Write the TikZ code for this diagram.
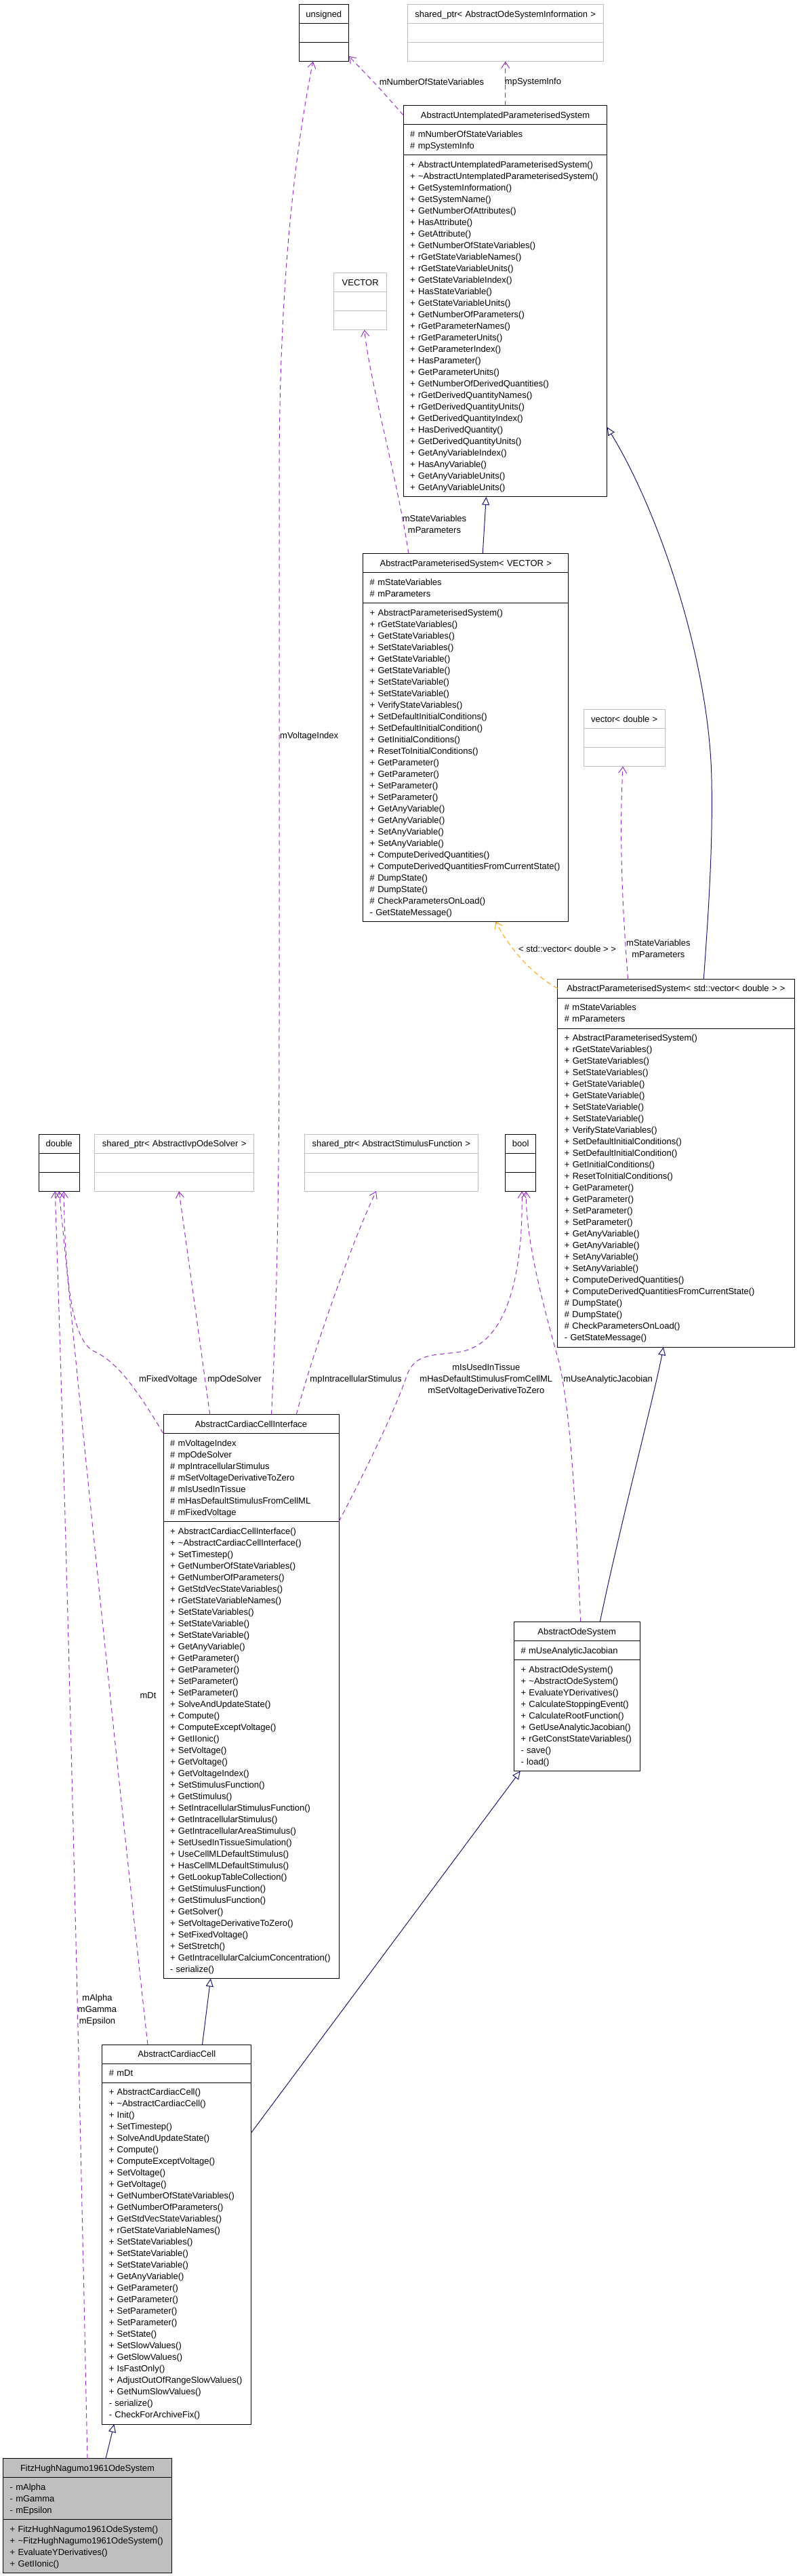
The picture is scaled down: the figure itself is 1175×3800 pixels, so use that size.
\documentclass[tikz,border=0pt]{standalone}
\usepackage{fontspec}
\setmainfont{Liberation Sans}
\usepackage{tikz}
\usetikzlibrary{positioning, arrows.meta}
\definecolor{umlgray}{HTML}{BFBFBF}
\definecolor{usecol}{HTML}{9A32CD}
\definecolor{inhcol}{HTML}{191970}
\definecolor{tplcol}{HTML}{FFA500}
\newcommand{\umlfont}{\fontsize{13}{17}\selectfont\hyphenpenalty=10000}
\newcommand{\psattrs}{\#~mStateVariables\\\#~mParameters}
\newcommand{\psops}{+~AbstractParameterisedSystem()\\+~rGetStateVariables()\\+~GetStateVariables()\\+~SetStateVariables()\\+~GetStateVariable()\\+~GetStateVariable()\\+~SetStateVariable()\\+~SetStateVariable()\\+~VerifyStateVariables()\\+~SetDefaultInitialConditions()\\+~SetDefaultInitialCondition()\\+~GetInitialConditions()\\+~ResetToInitialConditions()\\+~GetParameter()\\+~GetParameter()\\+~SetParameter()\\+~SetParameter()\\+~GetAnyVariable()\\+~GetAnyVariable()\\+~SetAnyVariable()\\+~SetAnyVariable()\\+~ComputeDerivedQuantities()\\+~ComputeDerivedQuantitiesFromCurrentState()\\\#~DumpState()\\\#~DumpState()\\\#~CheckParametersOnLoad()\\-~GetStateMessage()}

\begin{document}
\begin{tikzpicture}[x=1pt, y=-1pt,
box/.style = {draw, line width=1pt, outer sep=0pt, inner xsep=10pt, inner ysep=5.5pt,
  execute at begin node={\rule{0pt}{13.15pt}}, execute at end node={\rule[-3.85pt]{0pt}{0pt}}},
hdr/.style = {box, align=center},
sec/.style = {box, align=left},
ghost/.style = {draw=umlgray},
lbl/.style = {inner sep=0pt, align=center},
usage/.style = {draw=usecol, line width=1pt, dash pattern=on 7pt off 5pt, -{Straight Barb[length=9pt,width=12pt]}},
inh/.style = {draw=inhcol, line width=1pt, -{Triangle[open,length=12pt,width=11pt]}},
tpl/.style = {usage, draw=tplcol}]
\tikzstyle{every node}=[font=\umlfont]
\path[use as bounding box, fill=white] (0,0) rectangle (1175,3800);

% top row
\node[hdr, text width=53.7pt, anchor=north] (uns) at (477.85,6.7) {unsigned};
\node[sec, text width=53.7pt, below=0pt of uns] (uns-a) {};
\node[sec, text width=53.7pt, below=0pt of uns-a] (uns-m) {};
\node[hdr, ghost, text width=269.1pt, anchor=north] (sinfo) at (745.75,6.7) {shared\_ptr< AbstractOdeSystemInformation >};
\node[sec, ghost, text width=269.1pt, below=0pt of sinfo] (sinfo-a) {};
\node[sec, ghost, text width=269.1pt, below=0pt of sinfo-a] (sinfo-m) {};

\node[hdr, text width=280.6pt, anchor=north] (usys) at (745.5,155.9) {AbstractUntemplatedParameterisedSystem};
\node[sec, text width=280.6pt, below=0pt of usys] (usys-a) {\#~mNumberOfStateVariables\\\#~mpSystemInfo};
\node[sec, text width=280.6pt, below=0pt of usys-a] (usys-m) {+~AbstractUntemplatedParameterisedSystem()\\+~\textasciitilde AbstractUntemplatedParameterisedSystem()\\+~GetSystemInformation()\\+~GetSystemName()\\+~GetNumberOfAttributes()\\+~HasAttribute()\\+~GetAttribute()\\+~GetNumberOfStateVariables()\\+~rGetStateVariableNames()\\+~rGetStateVariableUnits()\\+~GetStateVariableIndex()\\+~HasStateVariable()\\+~GetStateVariableUnits()\\+~GetNumberOfParameters()\\+~rGetParameterNames()\\+~rGetParameterUnits()\\+~GetParameterIndex()\\+~HasParameter()\\+~GetParameterUnits()\\+~GetNumberOfDerivedQuantities()\\+~rGetDerivedQuantityNames()\\+~rGetDerivedQuantityUnits()\\+~GetDerivedQuantityIndex()\\+~HasDerivedQuantity()\\+~GetDerivedQuantityUnits()\\+~GetAnyVariableIndex()\\+~HasAnyVariable()\\+~GetAnyVariableUnits()\\+~GetAnyVariableUnits()};

\node[hdr, ghost, text width=57.8pt, anchor=north] (vec) at (531.7,402.5) {VECTOR};
\node[sec, ghost, text width=57.8pt, below=0pt of vec] (vec-a) {};
\node[sec, ghost, text width=57.8pt, below=0pt of vec-a] (vec-m) {};

\node[hdr, text width=283.1pt, anchor=north] (psv) at (687.25,816.5) {AbstractParameterisedSystem< VECTOR >};
\node[sec, text width=283.1pt, below=0pt of psv] (psv-a) {\psattrs};
\node[sec, text width=283.1pt, below=0pt of psv-a] (psv-m) {\psops};

\node[hdr, ghost, text width=100pt, anchor=north] (vdbl) at (921.2,1046.6) {vector< double >};
\node[sec, ghost, text width=100pt, below=0pt of vdbl] (vdbl-a) {};
\node[sec, ghost, text width=100pt, below=0pt of vdbl-a] (vdbl-m) {};

\node[hdr, text width=329.1pt, anchor=north] (psd) at (997.45,1444.2) {AbstractParameterisedSystem< std::vector< double > >};
\node[sec, text width=329.1pt, below=0pt of psd] (psd-a) {\psattrs};
\node[sec, text width=329.1pt, below=0pt of psd-a] (psd-m) {\psops};

% middle row
\node[hdr, text width=40.2pt, anchor=north] (dbl) at (87.2,1673.3) {double};
\node[sec, text width=40.2pt, below=0pt of dbl] (dbl-a) {};
\node[sec, text width=40.2pt, below=0pt of dbl-a] (dbl-m) {};
\node[hdr, ghost, text width=214.7pt, anchor=north] (sivp) at (257.15,1673.3) {shared\_ptr< AbstractIvpOdeSolver >};
\node[sec, ghost, text width=214.7pt, below=0pt of sivp] (sivp-a) {};
\node[sec, ghost, text width=214.7pt, below=0pt of sivp-a] (sivp-m) {};
\node[hdr, ghost, text width=236.6pt, anchor=north] (sstim) at (577.3,1673.3) {shared\_ptr< AbstractStimulusFunction >};
\node[sec, ghost, text width=236.6pt, below=0pt of sstim] (sstim-a) {};
\node[sec, ghost, text width=236.6pt, below=0pt of sstim-a] (sstim-m) {};
\node[hdr, text width=25.4pt, anchor=north] (bl) at (768.1,1673.3) {bool};
\node[sec, text width=25.4pt, below=0pt of bl] (bl-a) {};
\node[sec, text width=25.4pt, below=0pt of bl-a] (bl-m) {};

\node[hdr, text width=239pt, anchor=north] (acci) at (370.5,2086.5) {AbstractCardiacCellInterface};
\node[sec, text width=239pt, below=0pt of acci] (acci-a) {\#~mVoltageIndex\\\#~mpOdeSolver\\\#~mpIntracellularStimulus\\\#~mSetVoltageDerivativeToZero\\\#~mIsUsedInTissue\\\#~mHasDefaultStimulusFromCellML\\\#~mFixedVoltage};
\node[sec, text width=239pt, below=0pt of acci-a] (acci-m) {+~AbstractCardiacCellInterface()\\+~\textasciitilde AbstractCardiacCellInterface()\\+~SetTimestep()\\+~GetNumberOfStateVariables()\\+~GetNumberOfParameters()\\+~GetStdVecStateVariables()\\+~rGetStateVariableNames()\\+~SetStateVariables()\\+~SetStateVariable()\\+~SetStateVariable()\\+~GetAnyVariable()\\+~GetParameter()\\+~GetParameter()\\+~SetParameter()\\+~SetParameter()\\+~SolveAndUpdateState()\\+~Compute()\\+~ComputeExceptVoltage()\\+~GetIIonic()\\+~SetVoltage()\\+~GetVoltage()\\+~GetVoltageIndex()\\+~SetStimulusFunction()\\+~GetStimulus()\\+~SetIntracellularStimulusFunction()\\+~GetIntracellularStimulus()\\+~GetIntracellularAreaStimulus()\\+~SetUsedInTissueSimulation()\\+~UseCellMLDefaultStimulus()\\+~HasCellMLDefaultStimulus()\\+~GetLookupTableCollection()\\+~GetStimulusFunction()\\+~GetStimulusFunction()\\+~GetSolver()\\+~SetVoltageDerivativeToZero()\\+~SetFixedVoltage()\\+~SetStretch()\\+~GetIntracellularCalciumConcentration()\\-~serialize()};

\node[hdr, text width=165.5pt, anchor=north] (aode) at (851.25,2392.5) {AbstractOdeSystem};
\node[sec, text width=165.5pt, below=0pt of aode] (aode-a) {\#~mUseAnalyticJacobian};
\node[sec, text width=165.5pt, below=0pt of aode-a] (aode-m) {+~AbstractOdeSystem()\\+~\textasciitilde AbstractOdeSystem()\\+~EvaluateYDerivatives()\\+~CalculateStoppingEvent()\\+~CalculateRootFunction()\\+~GetUseAnalyticJacobian()\\+~rGetConstStateVariables()\\-~save()\\-~load()};

% bottom
\node[hdr, text width=200pt, anchor=north] (acc) at (260.8,3016) {AbstractCardiacCell};
\node[sec, text width=200pt, below=0pt of acc] (acc-a) {\#~mDt};
\node[sec, text width=200pt, below=0pt of acc-a] (acc-m) {+~AbstractCardiacCell()\\+~\textasciitilde AbstractCardiacCell()\\+~Init()\\+~SetTimestep()\\+~SolveAndUpdateState()\\+~Compute()\\+~ComputeExceptVoltage()\\+~SetVoltage()\\+~GetVoltage()\\+~GetNumberOfStateVariables()\\+~GetNumberOfParameters()\\+~GetStdVecStateVariables()\\+~rGetStateVariableNames()\\+~SetStateVariables()\\+~SetStateVariable()\\+~SetStateVariable()\\+~GetAnyVariable()\\+~GetParameter()\\+~GetParameter()\\+~SetParameter()\\+~SetParameter()\\+~SetState()\\+~SetSlowValues()\\+~GetSlowValues()\\+~IsFastOnly()\\+~AdjustOutOfRangeSlowValues()\\+~GetNumSlowValues()\\-~serialize()\\-~CheckForArchiveFix()};

\node[hdr, fill=umlgray, text width=228.8pt, anchor=north] (fhn) at (129,3626.7) {FitzHughNagumo1961OdeSystem};
\node[sec, fill=umlgray, text width=228.8pt, below=0pt of fhn] (fhn-a) {-~mAlpha\\-~mGamma\\-~mEpsilon};
\node[sec, fill=umlgray, text width=228.8pt, below=0pt of fhn-a] (fhn-m) {+~FitzHughNagumo1961OdeSystem()\\+~\textasciitilde FitzHughNagumo1961OdeSystem()\\+~EvaluateYDerivatives()\\+~GetIIonic()};

% edge labels
\node[lbl] (lnsv) at (637,121) {mNumberOfStateVariables};
\node[lbl] (lsi) at (786.5,121) {mpSystemInfo};
\node[lbl] (lpsv) at (641,773.5) {mStateVariables\\mParameters};
\node[lbl] (ltpl) at (837,1400) {< std::vector< double > >};
\node[lbl] (lpsd) at (971.4,1399.6) {mStateVariables\\mParameters};
\node[lbl, anchor=west] (lvi) at (413,1086.6) {mVoltageIndex};
\node[lbl] (lfv) at (248,2035.3) {mFixedVoltage};
\node[lbl] (lode) at (346,2035.3) {mpOdeSolver};
\node[lbl] (listim) at (525,2035.3) {mpIntracellularStimulus};
\node[lbl] (lbool) at (717.3,2035.3) {mIsUsedInTissue\\mHasDefaultStimulusFromCellML\\mSetVoltageDerivativeToZero};
\node[lbl] (ljac) at (897,2035.4) {mUseAnalyticJacobian};
\node[lbl] (ldt) at (218.5,2500.6) {mDt};
\node[lbl] (lfhn) at (143.5,2965.3) {mAlpha\\mGamma\\mEpsilon};

% usage
\draw[usage] (usys.west) .. controls (560,130) .. ([yshift=-6pt]uns-m.east);
\draw[usage] (usys.north) -- (sinfo-m.south);
\draw[usage] ([xshift=-84.3pt]psv.north) .. controls (585,700) and (545,560) .. ([xshift=6pt]vec-m.south);
\draw[usage] ([xshift=-70.85pt]psd.north) .. controls (915,1300) and (915,1200) .. ([xshift=-2pt]vdbl-m.south);
\draw[usage] ([xshift=30pt]acci.north) .. controls (410,1900) and (412,1700) .. (412,1500) -- (412,700) .. controls (412,450) and (430,250) .. ([xshift=-16pt]uns-m.south);
\draw[usage] (acci.south west) .. controls (205,2055) and (175,2010) .. (140,1994) .. controls (108,1980) and (96,1900) .. ([xshift=7pt]dbl-m.south);
\draw[usage] ([xshift=-60.8pt]acci.north) -- ([xshift=7pt]sivp-m.south);
\draw[usage] ([xshift=66.8pt]acci.north) .. controls (460,2000) and (520,1830) .. ([xshift=-22.3pt]sstim-m.south);
\draw[usage] (acci-a.south east) .. controls (560,2130) and (588,2065) .. (600,2030) .. controls (612,1995) and (640,2000) .. (680,1994) .. controls (755,1980) and (772,1860) .. ([xshift=2pt]bl-m.south);
\draw[usage] ([xshift=5.5pt]aode.north) .. controls (850,2250) and (845,2100) .. (825,2010) .. controls (800,1920) and (776,1830) .. ([xshift=8pt]bl-m.south);
\draw[usage] ([xshift=-42.8pt]acc.north) .. controls (205,2900) and (150,2400) .. (dbl-m.south);
\draw[usage] (fhn.north) .. controls (118,3100) and (100,2300) .. ([xshift=-6pt]dbl-m.south);
\draw[tpl] (psd.west) .. controls (790,1440) and (755,1405) .. ([xshift=44pt]psv-m.south);

% inheritance
\draw[inh] ([xshift=25pt]psv.north) .. controls (714,780) .. ([xshift=-28pt]usys-m.south);
\draw[inh] ([xshift=40.85pt]psd.north) .. controls (1045,1350) and (1052,1250) .. (1050,1150) .. controls (1047,980) and (975,760) .. ([yshift=-149.2pt]usys-m.east);
\draw[inh] ([xshift=34pt]aode.north) .. controls (915,2250) and (965,2060) .. ([xshift=-18.5pt]psd-m.south);
\draw[inh] ([xshift=37.7pt]acc.north) -- ([xshift=-59.7pt]acci-m.south);
\draw[inh] ([yshift=-74pt]acc-m.north east) -- ([xshift=-83.45pt]aode-m.south);
\draw[inh] ([xshift=27pt]fhn.north) -- ([xshift=-92.4pt]acc-m.south);
\end{tikzpicture}
\end{document}
